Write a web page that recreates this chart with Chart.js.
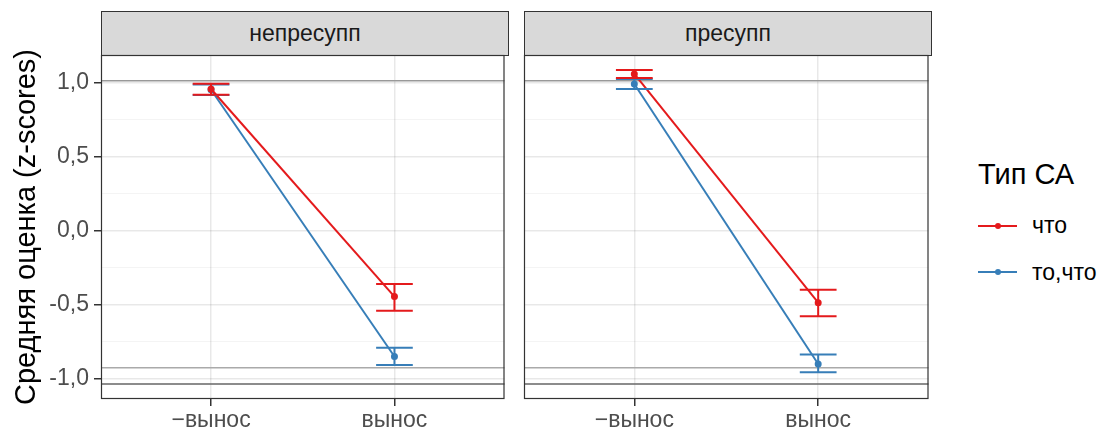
<!DOCTYPE html>
<html lang="ru">
<head>
  <meta charset="UTF-8">
  <title>Средняя оценка (z-scores)</title>
  <script src="https://cdn.jsdelivr.net/npm/chart.js"></script>
  <style>
    * { box-sizing: border-box; margin: 0; padding: 0; }

    body {
      width: 1109px;
      height: 432px;
      position: relative;
      overflow: hidden;
      background: #fff;
      font-family: 'Liberation Sans', Arial, sans-serif;
    }

    .strip {
      position: absolute;
      top: 11px;
      height: 45px;
      background: #d9d9d9;
      border: 1px solid #333;
      color: #1a1a1a;
      font-size: 23px;
      line-height: 43px;
      text-align: center;
    }

    .panel { position: absolute; top: 50px; height: 382px; }

    .legend-title {
      position: absolute;
      left: 978px;
      top: 160px;
      font-size: 29px;
      line-height: 29px;
      color: #000;
    }

    .key {
      position: absolute;
      left: 978px;
      width: 39px;
      height: 2px;
    }
    .key::after {
      content: '';
      position: absolute;
      left: 17px;
      top: -2px;
      width: 6px;
      height: 6px;
      border-radius: 50%;
      background: inherit;
    }

    .key-label {
      position: absolute;
      left: 1032px;
      font-size: 23px;
      line-height: 23px;
      color: #000;
    }
  </style>
</head>
<body>
  <div class="strip" style="left:101px;width:408px;" id="strip0"></div>
  <div class="strip" style="left:524px;width:408px;" id="strip1"></div>

  <div class="panel" style="left:0;width:509px;"><canvas id="chart0"></canvas></div>
  <div class="panel" style="left:519px;width:414px;"><canvas id="chart1"></canvas></div>

  <div class="legend-title" id="legendTitle"></div>
  <div class="key" id="key0" style="top:225px;"></div>
  <div class="key-label" id="label0" style="top:214px;"></div>
  <div class="key" id="key1" style="top:271px;"></div>
  <div class="key-label" id="label1" style="top:261px;"></div>

  <script>
    // data
    const panels = ['непресупп', 'пресупп'];
    const categories = ['−вынос', 'вынос'];
    const groups = ['что', 'то,что'];
    const legendTitle = 'Тип СА';
    const yTitle = 'Средняя оценка (z-scores)';

    const yMajor = [-1, -0.5, 0, 0.5, 1];
    const yMinor = [-0.75, -0.25, 0.25, 0.75];
    const yLabels = ['-1,0', '-0,5', '0,0', '0,5', '1,0'];

    // rows: что, то,что ; columns: −вынос, вынос
    const meanNepresupp = [[0.955, -0.448], [0.95, -0.853]];
    const lowNepresupp = [[0.917, -0.543], [0.915, -0.911]];
    const highNepresupp = [[0.99, -0.362], [0.985, -0.793]];

    const meanPresupp = [[1.057, -0.489], [0.989, -0.903]];
    const lowPresupp = [[1.03, -0.581], [0.955, -0.959]];
    const highPresupp = [[1.084, -0.401], [1.023, -0.84]];

    const refLines = [1.011, -0.928, -1.039];

    // styles
    const colors = ['#E41A1C', '#377EB8'];
    const refColors = ['#999999', '#aaaaaa', '#666666'];
    const font = "'Liberation Sans', Arial, sans-serif";
    const capHalf = 0.1;

    document.getElementById('strip0').textContent = panels[0];
    document.getElementById('strip1').textContent = panels[1];
    document.getElementById('legendTitle').textContent = legendTitle;
    groups.forEach((g, i) => {
      document.getElementById('key' + i).style.background = colors[i];
      document.getElementById('label' + i).textContent = g;
    });

    function extras(lows, highs) {
      return {
        id: 'extras',
        beforeDatasetsDraw(chart) {
          const { ctx, chartArea: a, scales: { y } } = chart;
          ctx.save();
          ctx.lineWidth = 1.5;
          refLines.forEach((v, i) => {
            const py = y.getPixelForValue(v);
            ctx.strokeStyle = refColors[i];
            ctx.beginPath();
            ctx.moveTo(a.left, py);
            ctx.lineTo(a.right, py);
            ctx.stroke();
          });
          ctx.restore();
        },
        afterDatasetsDraw(chart) {
          const { ctx, scales: { x, y } } = chart;
          ctx.save();
          ctx.lineWidth = 2;
          for (let g = groups.length - 1; g >= 0; g--) {
            ctx.strokeStyle = colors[g];
            categories.forEach((c, i) => {
              const px = x.getPixelForValue(i + 1);
              const x0 = x.getPixelForValue(i + 1 - capHalf);
              const x1 = x.getPixelForValue(i + 1 + capHalf);
              const yl = y.getPixelForValue(lows[g][i]);
              const yh = y.getPixelForValue(highs[g][i]);
              ctx.beginPath();
              ctx.moveTo(x0, yh); ctx.lineTo(x1, yh);
              ctx.moveTo(px, yh); ctx.lineTo(px, yl);
              ctx.moveTo(x0, yl); ctx.lineTo(x1, yl);
              ctx.stroke();
            });
          }
          ctx.restore();
        },
        afterDraw(chart) {
          const { ctx, chartArea: a } = chart;
          ctx.save();
          ctx.strokeStyle = '#333';
          ctx.lineWidth = 1.2;
          ctx.strokeRect(a.left + 0.5, a.top + 0.5, a.right - a.left - 1, a.bottom - a.top - 1);
          ctx.restore();
        }
      };
    }

    function makePanel(id, means, lows, highs, showY) {
      const datasets = groups.map((g, gi) => ({
        label: g,
        data: categories.map((c, i) => ({ x: i + 1, y: means[gi][i] })),
        borderColor: colors[gi],
        backgroundColor: colors[gi],
        borderWidth: 2,
        pointRadius: 2.5,
        pointHoverRadius: 2.5,
        tension: 0
      }));

      return new Chart(document.getElementById(id), {
        type: 'line',
        data: { datasets },
        options: {
          responsive: true,
          maintainAspectRatio: false,
          animation: false,
          layout: { padding: { top: 5, right: showY ? 1 : 2, left: showY ? 0 : 5, bottom: 0 } },
          plugins: { legend: { display: false }, tooltip: { enabled: false } },
          scales: {
            x: {
              type: 'linear',
              min: 0.4,
              max: 2.6,
              afterBuildTicks: s => { s.ticks = categories.map((c, i) => ({ value: i + 1 })); },
              afterFit: s => {
                s.height = 33;
                s.paddingLeft = 0;
                s.paddingRight = 0;
              },
              border: { display: false },
              grid: { color: 'rgba(0,0,0,0.09)', lineWidth: 1.5, tickColor: '#333', tickLength: 7 },
              ticks: {
                padding: 1,
                color: '#4d4d4d',
                font: { family: font, size: 23 },
                maxRotation: 0,
                callback: v => categories[v - 1]
              }
            },
            y: {
              min: -1.14,
              max: 1.185,
              afterBuildTicks: s => {
                s.ticks = yMajor.concat(yMinor).sort((a, b) => a - b).map(v => ({ value: v }));
              },
              afterFit: s => {
                s.width = showY ? 101 : 0;
                s.paddingTop = 0;
                s.paddingBottom = 0;
              },
              border: { display: false },
              grid: {
                color: c => yMajor.includes(c.tick.value) ? 'rgba(0,0,0,0.09)' : 'rgba(0,0,0,0.045)',
                lineWidth: c => yMajor.includes(c.tick.value) ? 1.5 : 1,
                tickColor: c => yMajor.includes(c.tick.value) ? '#333' : 'rgba(0,0,0,0)',
                tickLength: showY ? 7 : 0,
                drawTicks: showY
              },
              ticks: {
                display: showY,
                padding: 5,
                color: '#4d4d4d',
                font: { family: font, size: 23 },
                callback: v => {
                  const k = yMajor.indexOf(v);
                  return k >= 0 ? yLabels[k] : '';
                }
              },
              title: {
                display: showY,
                text: yTitle,
                color: '#000',
                font: { family: font, size: 29 },
                padding: { top: 10, bottom: 0 }
              }
            }
          }
        },
        plugins: [extras(lows, highs)]
      });
    }

    makePanel('chart0', meanNepresupp, lowNepresupp, highNepresupp, true);
    makePanel('chart1', meanPresupp, lowPresupp, highPresupp, false);
  </script>
</body>
</html>
